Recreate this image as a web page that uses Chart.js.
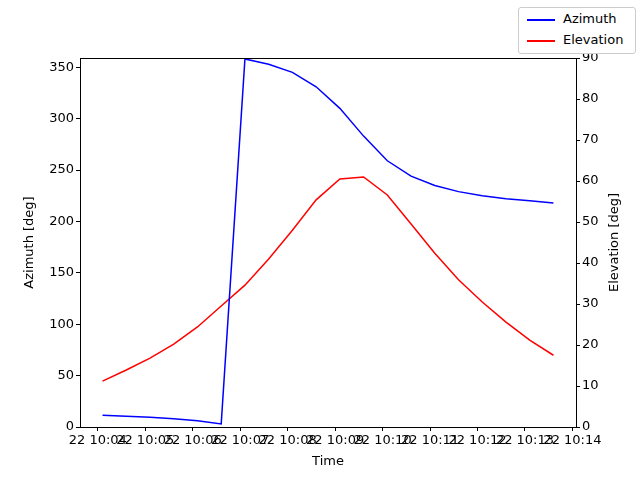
<!DOCTYPE html>
<html>
<head>
<script src="https://cdn.jsdelivr.net/npm/chart.js@4"></script>
<style>
body { margin: 0; background: #fff; }
#wrap { position: relative; width: 640px; height: 480px; }
#legend { position: absolute; left: 518px; top: 7px; width: 116px; height: 45px; border: 1px solid #ccc; border-radius: 3px; background: #fff;
  font: 13px "DejaVu Sans", sans-serif; }
.item { position: absolute; left: 8px; height: 16px; line-height: 16px; }
.item span.l { display: inline-block; width: 28px; height: 2px; vertical-align: middle; margin-right: 8px; }
</style>
</head>
<body>
<div id="wrap">
<canvas id="c" width="640" height="480"></canvas>
<div id="legend">
  <div class="item" style="top:3px"><span class="l" style="background:blue"></span>Azimuth</div>
  <div class="item" style="top:24px"><span class="l" style="background:red"></span>Elevation</div>
</div>
</div>
<script>
// seconds after 10:00, one sample every 30 s
const times = [246, 276, 306, 336, 366, 396, 426, 456, 486, 516, 546, 576, 606, 636, 666, 696, 726, 756, 786, 816];
const azimuth = [11.5, 10.5, 9.5, 8, 6, 3, 358, 353, 345, 331, 310, 283, 259, 244, 235, 229, 225, 222, 220, 218];
const elevation = [11.2, 13.9, 16.8, 20.2, 24.4, 29.5, 34.6, 41, 48, 55.4, 60.5, 61, 56.6, 49.5, 42.4, 35.9, 30.5, 25.6, 21.2, 17.5];

const font = { family: "DejaVu Sans", size: 13 };
const grid = { drawOnChartArea: false, tickLength: 4, color: "#000" };

// frame and axis titles, matplotlib style
const frame = {
  id: "frame",
  afterDraw(chart) {
    const { ctx, chartArea: a } = chart;
    ctx.save();
    ctx.strokeStyle = "#000"; ctx.lineWidth = 1;
    ctx.strokeRect(a.left + 0.5, a.top + 0.5, a.right - a.left, a.bottom - a.top);
    ctx.fillStyle = "#000"; ctx.font = "13px DejaVu Sans";
    ctx.textAlign = "center"; ctx.textBaseline = "middle";
    ctx.fillText("Time", (a.left + a.right) / 2, 462);
    const cy = (a.top + a.bottom) / 2;
    ctx.translate(30, cy); ctx.rotate(-Math.PI / 2); ctx.fillText("Azimuth [deg]", 0, 0);
    ctx.setTransform(1, 0, 0, 1, 0, 0);
    ctx.translate(615, cy); ctx.rotate(-Math.PI / 2); ctx.fillText("Elevation [deg]", 0, 0);
    ctx.restore();
  }
};

new Chart(document.getElementById("c"), {
  type: "line",
  data: {
    datasets: [
      { label: "Azimuth", data: times.map((t, i) => ({ x: t, y: azimuth[i] })), borderColor: "blue", borderWidth: 1.5, pointRadius: 0, yAxisID: "y" },
      { label: "Elevation", data: times.map((t, i) => ({ x: t, y: elevation[i] })), borderColor: "red", borderWidth: 1.5, pointRadius: 0, yAxisID: "y1" }
    ]
  },
  plugins: [frame],
  options: {
    responsive: false, animation: false,
    layout: { padding: { top: 58, left: 0, right: 0, bottom: 0 } },
    plugins: { legend: { display: false }, tooltip: { enabled: false } },
    scales: {
      x: {
        type: "linear", min: 217.5, max: 844.5,
        afterBuildTicks: s => { s.ticks = []; for (let v = 240; v <= 840; v += 60) s.ticks.push({ value: v }); },
        ticks: { color: "#000", font, maxRotation: 0, autoSkip: false, padding: 2,
          callback: v => "22 10:" + String(Math.round(v / 60)).padStart(2, "0") },
        grid, border: { color: "#000" },
        afterFit: s => { s.height = 53; }
      },
      y: {
        position: "left", min: 0, max: 359,
        afterBuildTicks: s => { s.ticks = []; for (let v = 0; v <= 350; v += 50) s.ticks.push({ value: v }); },
        ticks: { color: "#000", font, padding: 2 },
        grid, border: { color: "#000" },
        afterFit: s => { s.width = 80; }
      },
      y1: {
        position: "right", min: 0, max: 90,
        afterBuildTicks: s => { s.ticks = []; for (let v = 0; v <= 90; v += 10) s.ticks.push({ value: v }); },
        ticks: { color: "#000", font, padding: 2 },
        grid, border: { color: "#000" },
        afterFit: s => { s.width = 64; }
      }
    }
  }
});
</script>
</body>
</html>
